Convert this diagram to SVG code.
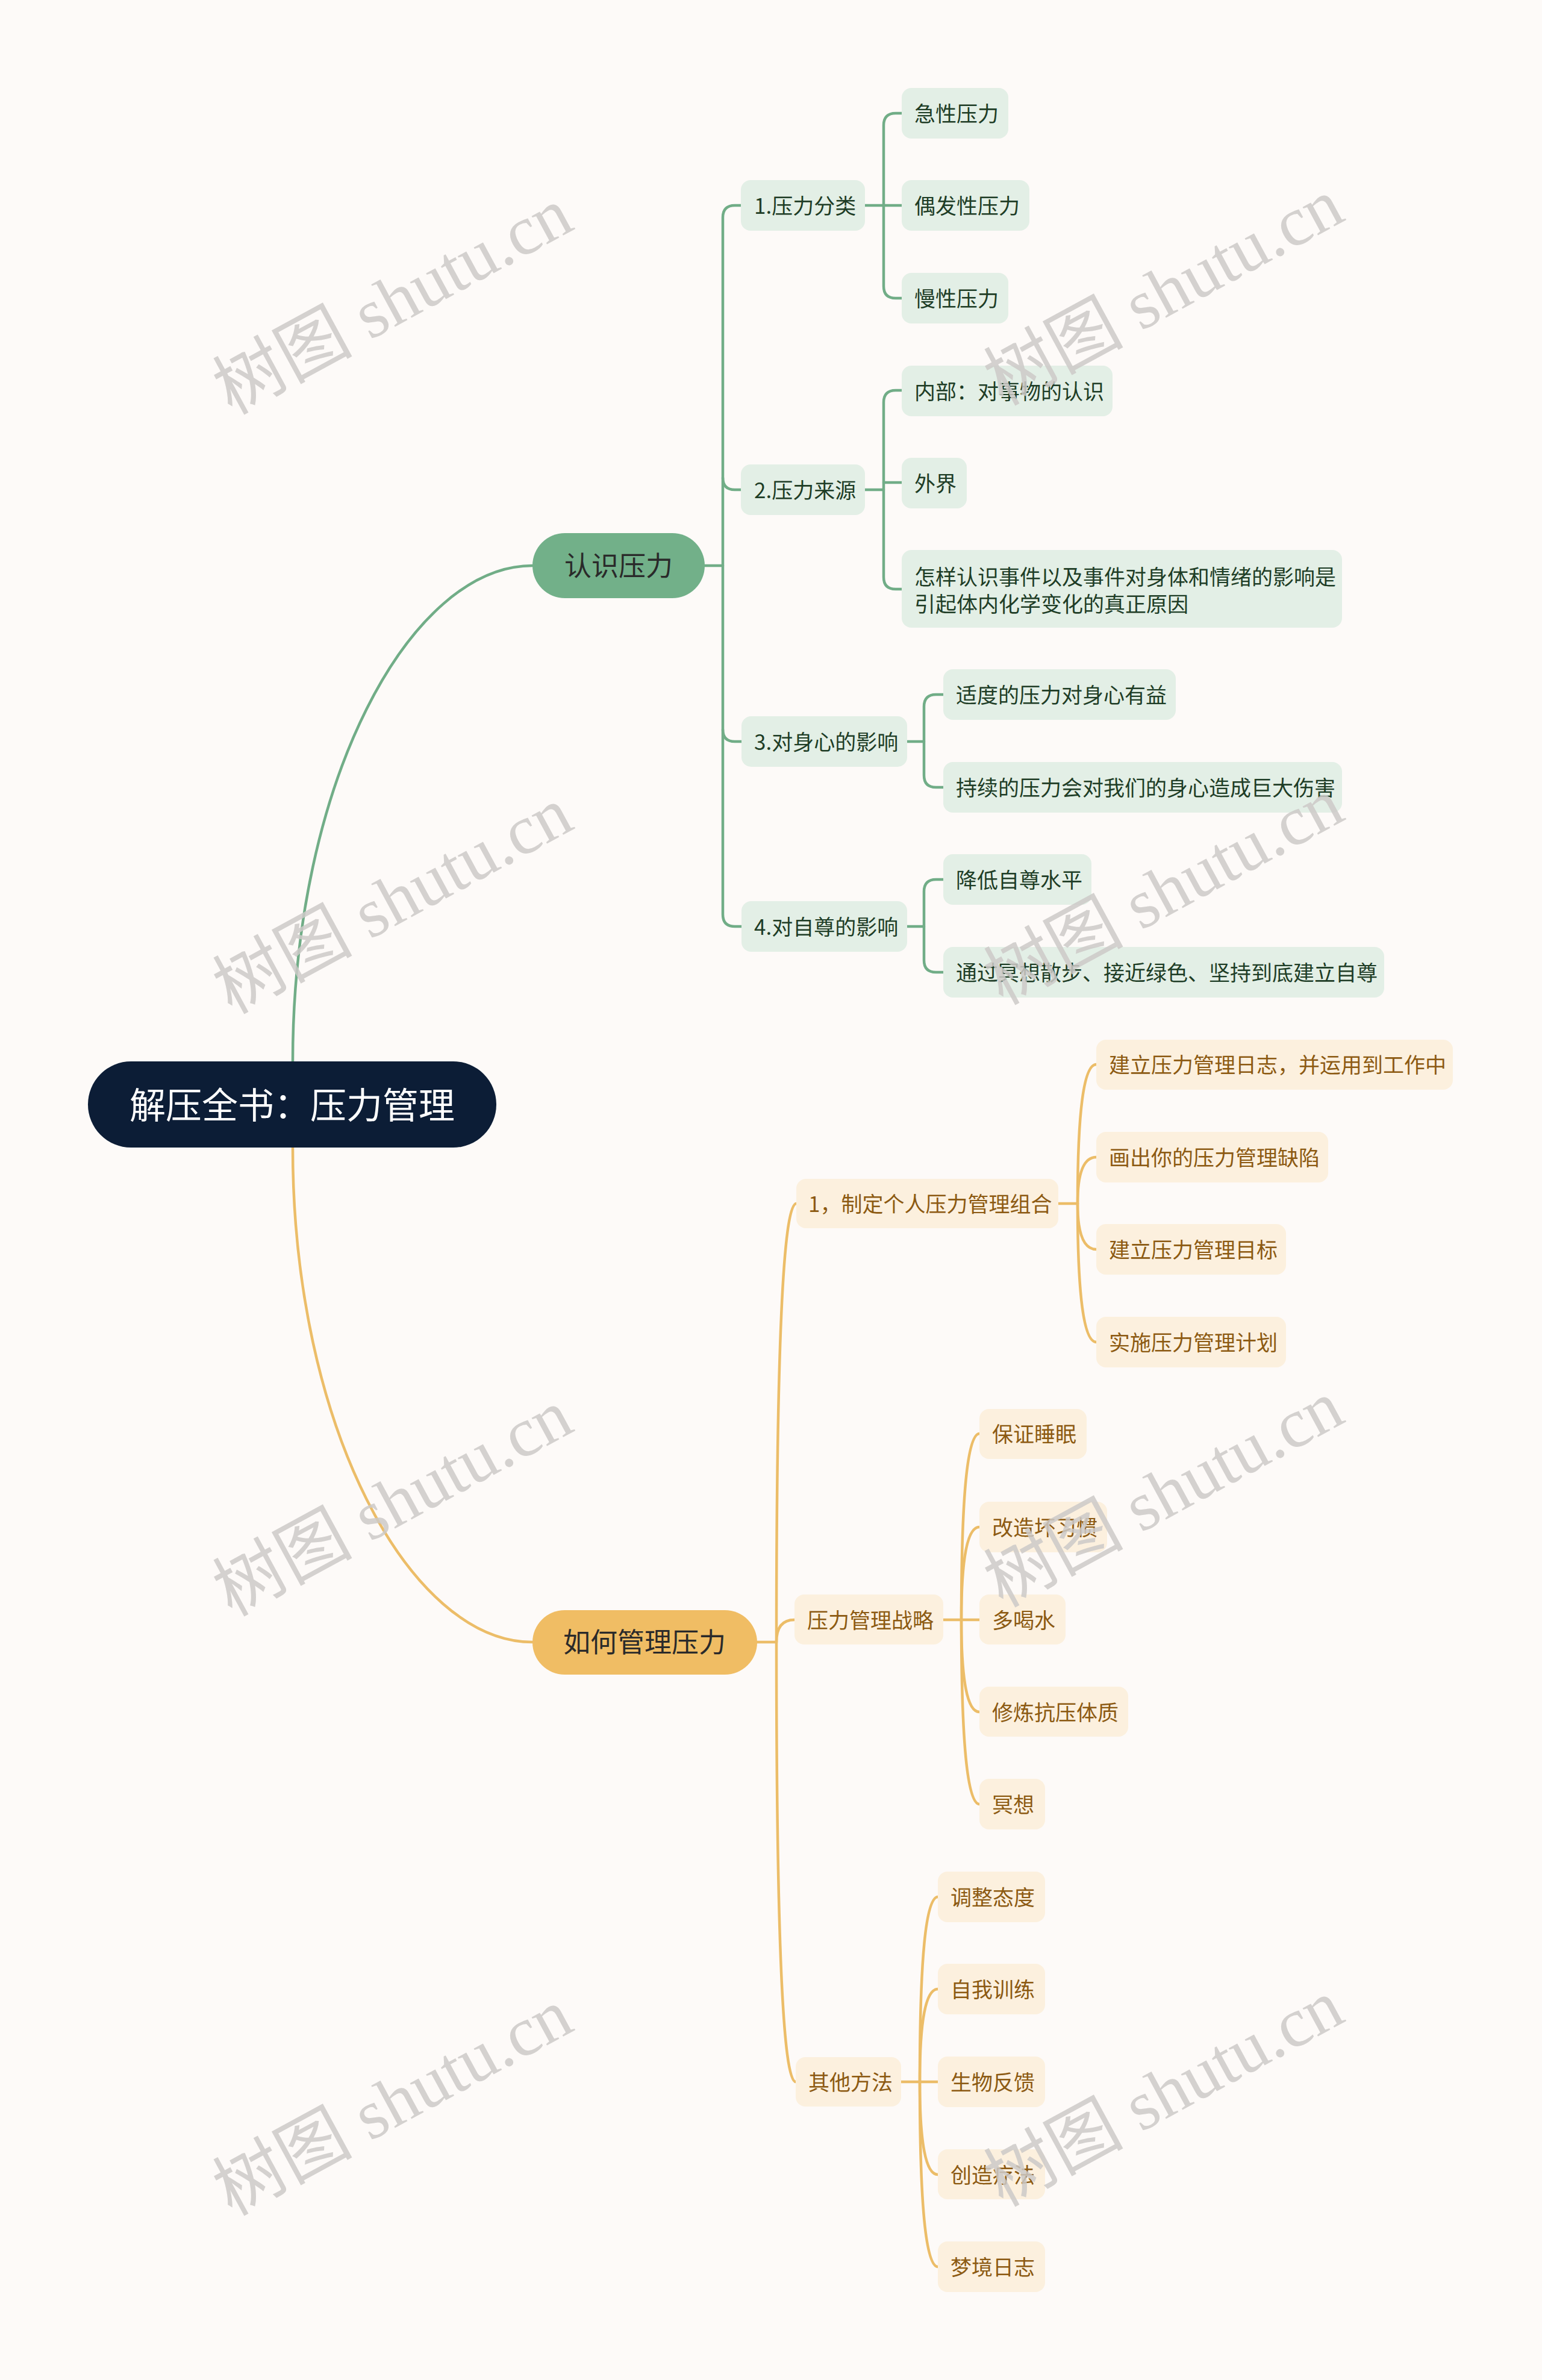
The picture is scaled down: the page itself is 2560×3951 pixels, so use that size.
<svg xmlns="http://www.w3.org/2000/svg" width="2560" height="3951" viewBox="0 0 2560 3951">
<style>
text{font-family:"Noto Sans CJK SC","Noto Sans",sans-serif;dominant-baseline:central}
.cg{fill:none;stroke:#71ad87;stroke-width:4.5;stroke-linecap:round}
.co{fill:none;stroke:#ecbd68;stroke-width:4.5;stroke-linecap:round}
.gbox{fill:#e3efe6}
.obox{fill:#fcf0de}
.gt{font-size:35px;fill:#1e3d26}
.ot{font-size:35px;fill:#8c5a12}
.l1{font-size:45px;fill:#2a2a2a;text-anchor:middle}
.wm{font-family:"Liberation Serif","Noto Sans CJK SC",serif;font-size:116px;fill:#cdcac8;opacity:0.85;text-anchor:middle}
</style>
<rect x="0" y="0" width="2560" height="3951" fill="#fdfaf8"/>
<g id="connectors">
<path class="cg" d="M486,1762 C486,1300 680,939 884,939"/>
<path class="cg" d="M1170,939 H1200"/>
<path class="cg" d="M1230,341 H1220 Q1200,341 1200,361 V1518 Q1200,1538 1220,1538 H1231"/>
<path class="cg" d="M1200,793 Q1200,813 1220,813 H1230"/>
<path class="cg" d="M1200,1211 Q1200,1231 1220,1231 H1231"/>
<path class="cg" d="M1436,341 H1497"/>
<path class="cg" d="M1497,188 H1487 Q1467,188 1467,208 V475 Q1467,495 1487,495 H1497"/>
<path class="cg" d="M1436,813 H1467"/>
<path class="cg" d="M1467,801 H1497"/>
<path class="cg" d="M1497,648 H1487 Q1467,648 1467,668 V958 Q1467,978 1487,978 H1497"/>
<path class="cg" d="M1506,1231 H1534"/>
<path class="cg" d="M1566,1153 H1554 Q1534,1153 1534,1173 V1287 Q1534,1307 1554,1307 H1566"/>
<path class="cg" d="M1506,1538 H1534"/>
<path class="cg" d="M1566,1460 H1554 Q1534,1460 1534,1480 V1594 Q1534,1614 1554,1614 H1566"/>
<path class="co" d="M486,1905 C486,2367 680,2726 884,2726"/>
<path class="co" d="M1257,2726 H1289"/>
<path class="co" d="M1289,2726 Q1289,1998 1322,1998"/>
<path class="co" d="M1289,2726 Q1289,2689 1319,2689"/>
<path class="co" d="M1289,2726 Q1289,3456 1321,3456"/>
<path class="co" d="M1757,1998 H1789"/>
<path class="co" d="M1789,1998 Q1789,1767 1820,1767"/>
<path class="co" d="M1789,1998 Q1789,1921 1820,1921"/>
<path class="co" d="M1789,1998 Q1789,2074 1820,2074"/>
<path class="co" d="M1789,1998 Q1789,2228 1820,2228"/>
<path class="co" d="M1566,2689 H1596"/>
<path class="co" d="M1596,2689 Q1596,2380 1626,2380"/>
<path class="co" d="M1596,2689 Q1596,2535 1626,2535"/>
<path class="co" d="M1596,2689 H1626"/>
<path class="co" d="M1596,2689 Q1596,2842 1626,2842"/>
<path class="co" d="M1596,2689 Q1596,2995 1626,2995"/>
<path class="co" d="M1496,3456 H1527"/>
<path class="co" d="M1527,3456 Q1527,3149 1557,3149"/>
<path class="co" d="M1527,3456 Q1527,3302 1557,3302"/>
<path class="co" d="M1527,3456 H1557"/>
<path class="co" d="M1527,3456 Q1527,3610 1557,3610"/>
<path class="co" d="M1527,3456 Q1527,3763 1557,3763"/>
</g>
<g id="root"><rect x="146" y="1762" width="678" height="143" rx="71.5" fill="#0c1d36"/><text x="485" y="1830" font-size="60" fill="#ffffff" text-anchor="middle">解压全书：压力管理</text></g>
<g id="n-renshi"><rect x="884" y="885" width="286" height="108" rx="54" fill="#72b089"/><text class="l1" x="1027" y="936">认识压力</text></g>
<g id="n-ruhe"><rect x="884" y="2673" width="373" height="107" rx="53.5" fill="#f0bd64"/><text class="l1" x="1070" y="2723">如何管理压力</text></g>
<g id="g1"><rect class="gbox" x="1230" y="299" width="206" height="84" rx="16"/><text class="gt" x="1252" y="339">1.压力分类</text></g>
<g id="g1a"><rect class="gbox" x="1497" y="146" width="177" height="84" rx="16"/><text class="gt" x="1518" y="186">急性压力</text></g>
<g id="g1b"><rect class="gbox" x="1497" y="299" width="212" height="84" rx="16"/><text class="gt" x="1518" y="339">偶发性压力</text></g>
<g id="g1c"><rect class="gbox" x="1497" y="453" width="177" height="84" rx="16"/><text class="gt" x="1518" y="493">慢性压力</text></g>
<g id="g2"><rect class="gbox" x="1230" y="771" width="206" height="84" rx="16"/><text class="gt" x="1252" y="811">2.压力来源</text></g>
<g id="g2a"><rect class="gbox" x="1497" y="607" width="350" height="84" rx="16"/><text class="gt" x="1518" y="647">内部：对事物的认识</text></g>
<g id="g2b"><rect class="gbox" x="1497" y="760" width="108" height="84" rx="16"/><text class="gt" x="1518" y="800">外界</text></g>
<g id="g2c"><rect class="gbox" x="1497" y="913" width="731" height="129" rx="16"/><text class="gt" x="1518" y="955">怎样认识事件以及事件对身体和情绪的影响是</text><text class="gt" x="1518" y="1000">引起体内化学变化的真正原因</text></g>
<g id="g3"><rect class="gbox" x="1231" y="1189" width="275" height="84" rx="16"/><text class="gt" x="1252" y="1229">3.对身心的影响</text></g>
<g id="g3a"><rect class="gbox" x="1566" y="1111" width="386" height="84" rx="16"/><text class="gt" x="1587" y="1151">适度的压力对身心有益</text></g>
<g id="g3b"><rect class="gbox" x="1566" y="1265" width="662" height="84" rx="16"/><text class="gt" x="1587" y="1305">持续的压力会对我们的身心造成巨大伤害</text></g>
<g id="g4"><rect class="gbox" x="1231" y="1496" width="275" height="84" rx="16"/><text class="gt" x="1252" y="1536">4.对自尊的影响</text></g>
<g id="g4a"><rect class="gbox" x="1566" y="1418" width="246" height="84" rx="16"/><text class="gt" x="1587" y="1458">降低自尊水平</text></g>
<g id="g4b"><rect class="gbox" x="1566" y="1572" width="732" height="84" rx="16"/><text class="gt" x="1587" y="1612">通过冥想散步、接近绿色、坚持到底建立自尊</text></g>
<g id="o1"><rect class="obox" x="1322" y="1957" width="435" height="82" rx="16"/><text class="ot" x="1342" y="1996">1，制定个人压力管理组合</text></g>
<g id="o1a"><rect class="obox" x="1820" y="1726" width="592" height="83" rx="16"/><text class="ot" x="1841" y="1765">建立压力管理日志，并运用到工作中</text></g>
<g id="o1b"><rect class="obox" x="1820" y="1879" width="385" height="84" rx="16"/><text class="ot" x="1841" y="1919">画出你的压力管理缺陷</text></g>
<g id="o1c"><rect class="obox" x="1820" y="2032" width="315" height="84" rx="16"/><text class="ot" x="1841" y="2072">建立压力管理目标</text></g>
<g id="o1d"><rect class="obox" x="1820" y="2186" width="315" height="84" rx="16"/><text class="ot" x="1841" y="2226">实施压力管理计划</text></g>
<g id="o2"><rect class="obox" x="1319" y="2647" width="247" height="83" rx="16"/><text class="ot" x="1340" y="2687">压力管理战略</text></g>
<g id="o2a"><rect class="obox" x="1626" y="2339" width="178" height="83" rx="16"/><text class="ot" x="1647" y="2378">保证睡眠</text></g>
<g id="o2b"><rect class="obox" x="1626" y="2493" width="212" height="84" rx="16"/><text class="ot" x="1647" y="2533">改造坏习惯</text></g>
<g id="o2c"><rect class="obox" x="1626" y="2647" width="143" height="83" rx="16"/><text class="ot" x="1647" y="2687">多喝水</text></g>
<g id="o2d"><rect class="obox" x="1626" y="2800" width="247" height="83" rx="16"/><text class="ot" x="1647" y="2840">修炼抗压体质</text></g>
<g id="o2e"><rect class="obox" x="1626" y="2953" width="109" height="84" rx="16"/><text class="ot" x="1647" y="2993">冥想</text></g>
<g id="o3"><rect class="obox" x="1321" y="3415" width="175" height="82" rx="16"/><text class="ot" x="1342" y="3454">其他方法</text></g>
<g id="o3a"><rect class="obox" x="1557" y="3107" width="178" height="84" rx="16"/><text class="ot" x="1578" y="3147">调整态度</text></g>
<g id="o3b"><rect class="obox" x="1557" y="3260" width="178" height="84" rx="16"/><text class="ot" x="1578" y="3300">自我训练</text></g>
<g id="o3c"><rect class="obox" x="1557" y="3414" width="178" height="84" rx="16"/><text class="ot" x="1578" y="3454">生物反馈</text></g>
<g id="o3d"><rect class="obox" x="1557" y="3568" width="178" height="83" rx="16"/><text class="ot" x="1578" y="3608">创造疗法</text></g>
<g id="o3e"><rect class="obox" x="1557" y="3721" width="178" height="84" rx="16"/><text class="ot" x="1578" y="3761">梦境日志</text></g>
<g id="watermark">
<text class="wm" transform="translate(652,500) rotate(-28.5)">树图 shutu.cn</text>
<text class="wm" transform="translate(652,1495) rotate(-28.5)">树图 shutu.cn</text>
<text class="wm" transform="translate(652,2495) rotate(-28.5)">树图 shutu.cn</text>
<text class="wm" transform="translate(652,3490) rotate(-28.5)">树图 shutu.cn</text>
<text class="wm" transform="translate(1932,485) rotate(-28.5)">树图 shutu.cn</text>
<text class="wm" transform="translate(1932,1480) rotate(-28.5)">树图 shutu.cn</text>
<text class="wm" transform="translate(1932,2480) rotate(-28.5)">树图 shutu.cn</text>
<text class="wm" transform="translate(1932,3475) rotate(-28.5)">树图 shutu.cn</text>
</g>
</svg>
